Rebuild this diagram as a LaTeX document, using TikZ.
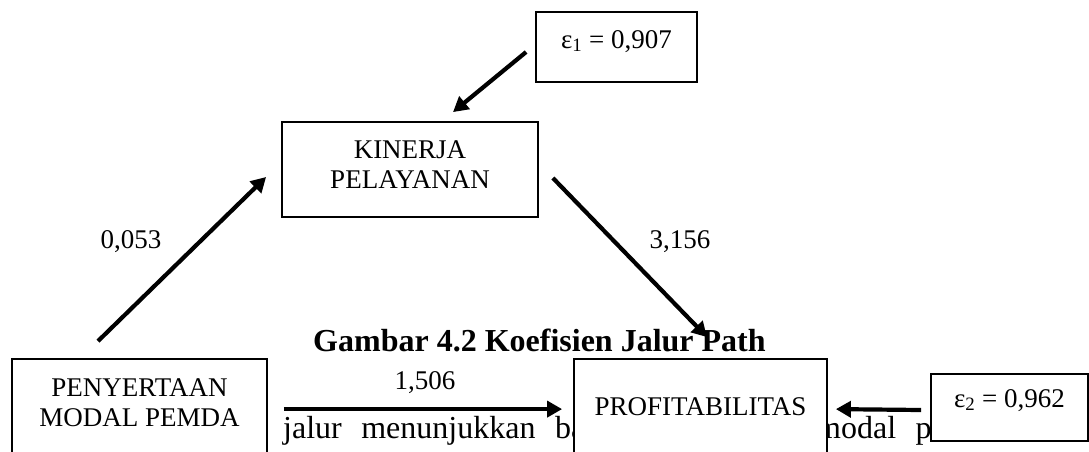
\documentclass[tikz,border=0pt]{standalone}
\usepackage{fontspec}
\setmainfont{Liberation Serif}
\usetikzlibrary{arrows.meta}
\tikzstyle{box} = [rectangle, draw, line width=1.8pt, fill=white, inner sep=0pt, font=\fontsize{27}{30}\selectfont]
\tikzstyle{coef} = [font=\fontsize{27}{30}\selectfont]
\tikzstyle{body} = [anchor=base west, inner sep=0pt, font=\fontsize{32}{38}\selectfont]
\tikzstyle{arrow} = [line width=4.2pt, -{Triangle[length=15pt,width=16pt]}]

\begin{document}
\begin{tikzpicture}[x=1pt, y=-1pt]
\path [use as bounding box, clip] (0,0) rectangle (1089,451);

% teks halaman di belakang gambar
\node [body] (t1) at (283,438) {\spaceskip=19.5pt\relax jalur menunjukkan ba};
\node [body] (t2) at (816,438) {\spaceskip=19.5pt\relax modal pe};
\node [body, font=\fontsize{32}{38}\selectfont\bfseries] (g) at (313,351) {Gambar 4.2 Koefisien Jalur Path};

\node [box, minimum width=161pt, text height=36pt, text depth=34pt] (e1) at (616.5,47) {ε\textsubscript{1} = 0,907};
\node [box, minimum width=256pt, text height=36pt, text depth=59pt] (k) at (410,169.5) {\begin{tabular}[t]{@{}c@{}}KINERJA\\PELAYANAN\end{tabular}};
\node [box, minimum width=255pt, text height=37pt, text depth=84pt] (m) at (139.5,419.5) {\begin{tabular}[t]{@{}c@{}}PENYERTAAN\\MODAL PEMDA\end{tabular}};
\node [box, minimum width=253pt, text height=56pt, text depth=65pt] (p) at (700.5,419.5) {PROFITABILITAS};
\node [box, minimum width=157pt, text height=33pt, text depth=34pt] (e2) at (1009.5,407.5) {ε\textsubscript{2} = 0,962};

\node [coef] (c1) at (131,242) {0,053};
\node [coef] (c2) at (680,242) {3,156};
\node [coef] (c3) at (425,383) {1,506};

\draw [arrow] ([shift={(-9,5)}]e1.west) -- ([shift={(43,-9)}]k.north);
\draw [arrow] ([shift={(-41.5,-17)}]m.north) -- ([shift={(-15,7.5)}]k.west);
\draw [arrow] ([shift={(14,8.5)}]k.east) -- ([shift={(6.5,-21)}]p.north);
\draw [arrow] ([shift={(16,51)}]m.north east) -- ([shift={(-11,51)}]p.north west);
\draw [arrow] ([shift={(-9,2.5)}]e2.west) -- ([shift={(8,51)}]p.north east);

\end{tikzpicture}
\end{document}
